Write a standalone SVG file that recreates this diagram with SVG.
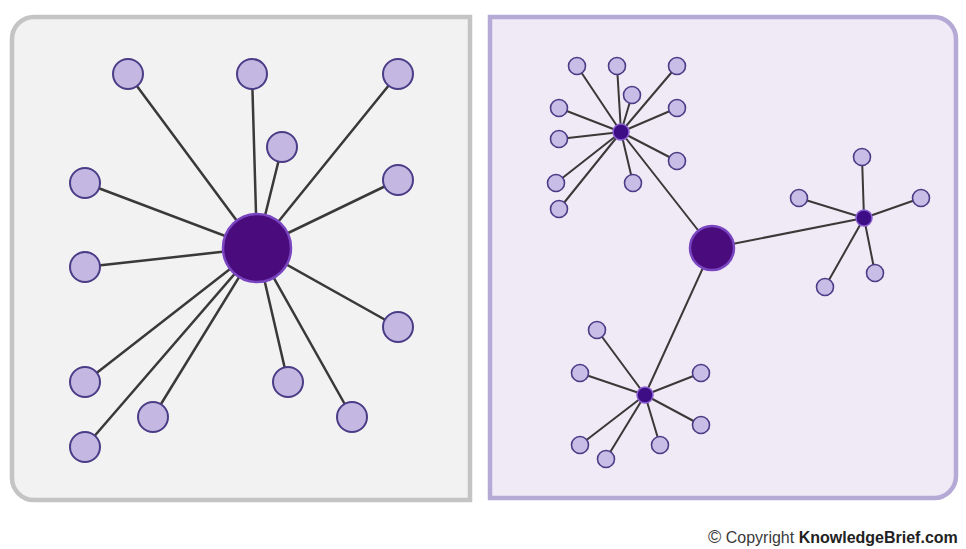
<svg xmlns="http://www.w3.org/2000/svg" width="966" height="549" viewBox="0 0 966 549">
<style>
.edge{stroke:#3b3838;stroke-width:2.5;fill:none;stroke-linecap:round}
.edge2{stroke:#3b3838;stroke-width:2;fill:none;stroke-linecap:round}
.leaf{fill:#c4b8e2;stroke:#4a3c86;stroke-width:2}
.leafs{fill:#c8bde6;stroke:#4a3c86;stroke-width:1.6}
.hub{fill:#4a0c7c;stroke:#7a45c0;stroke-width:2.5}
.sub{fill:#3d0d86;stroke:#8a5fd0;stroke-width:1.5}
.t{font-family:"Liberation Sans",Arial,sans-serif;font-size:16px;fill:#3a3a3a}
</style>
<g id="panel-left">
<path d="M34 17 H470 V500 H34 A22 22 0 0 1 12 478 V39 A22 22 0 0 1 34 17 Z" fill="#f2f2f2" stroke="#c4c4c4" stroke-width="4.5"/>
</g>
<g id="panel-right">
<path d="M490 17 H934 A22 22 0 0 1 956 39 V476 A22 22 0 0 1 934 498 H490 Z" fill="#f0e9f6" stroke="#b5aad5" stroke-width="4.5"/>
</g>
<g id="connectors">
<g class="edge">
<line x1="257" y1="248" x2="128" y2="74"/>
<line x1="257" y1="248" x2="252" y2="74"/>
<line x1="257" y1="248" x2="398" y2="74"/>
<line x1="257" y1="248" x2="282" y2="147"/>
<line x1="257" y1="248" x2="85" y2="183"/>
<line x1="257" y1="248" x2="398" y2="180"/>
<line x1="257" y1="248" x2="85" y2="267"/>
<line x1="257" y1="248" x2="398" y2="327"/>
<line x1="257" y1="248" x2="85" y2="382"/>
<line x1="257" y1="248" x2="288" y2="382"/>
<line x1="257" y1="248" x2="153" y2="417"/>
<line x1="257" y1="248" x2="352" y2="417"/>
<line x1="257" y1="248" x2="85" y2="447"/>
</g>
<g class="edge2">
<line x1="712" y1="248" x2="621" y2="132"/>
<line x1="712" y1="248" x2="864" y2="218"/>
<line x1="712" y1="248" x2="645" y2="395"/>
<line x1="621" y1="132" x2="577" y2="66"/>
<line x1="621" y1="132" x2="617" y2="66"/>
<line x1="621" y1="132" x2="677" y2="66"/>
<line x1="621" y1="132" x2="632" y2="95"/>
<line x1="621" y1="132" x2="559" y2="108"/>
<line x1="621" y1="132" x2="677" y2="108"/>
<line x1="621" y1="132" x2="559" y2="139"/>
<line x1="621" y1="132" x2="677" y2="161"/>
<line x1="621" y1="132" x2="556" y2="183"/>
<line x1="621" y1="132" x2="633" y2="183"/>
<line x1="621" y1="132" x2="559" y2="209"/>
<line x1="864" y1="218" x2="862" y2="157"/>
<line x1="864" y1="218" x2="799" y2="198"/>
<line x1="864" y1="218" x2="921" y2="198"/>
<line x1="864" y1="218" x2="875" y2="273"/>
<line x1="864" y1="218" x2="825" y2="287"/>
<line x1="645" y1="395" x2="597" y2="330"/>
<line x1="645" y1="395" x2="580" y2="373"/>
<line x1="645" y1="395" x2="701" y2="373"/>
<line x1="645" y1="395" x2="701" y2="425"/>
<line x1="645" y1="395" x2="580" y2="445"/>
<line x1="645" y1="395" x2="660" y2="445"/>
<line x1="645" y1="395" x2="606" y2="459"/>
</g>
</g>
<g id="hub-left"><circle class="hub" cx="257" cy="248" r="34"/></g>
<g id="l1"><circle class="leaf" cx="128" cy="74" r="15"/></g>
<g id="l2"><circle class="leaf" cx="252" cy="74" r="15"/></g>
<g id="l3"><circle class="leaf" cx="398" cy="74" r="15"/></g>
<g id="l4"><circle class="leaf" cx="282" cy="147" r="15"/></g>
<g id="l5"><circle class="leaf" cx="85" cy="183" r="15"/></g>
<g id="l6"><circle class="leaf" cx="398" cy="180" r="15"/></g>
<g id="l7"><circle class="leaf" cx="85" cy="267" r="15"/></g>
<g id="l8"><circle class="leaf" cx="398" cy="327" r="15"/></g>
<g id="l9"><circle class="leaf" cx="85" cy="382" r="15"/></g>
<g id="l10"><circle class="leaf" cx="288" cy="382" r="15"/></g>
<g id="l11"><circle class="leaf" cx="153" cy="417" r="15"/></g>
<g id="l12"><circle class="leaf" cx="352" cy="417" r="15"/></g>
<g id="l13"><circle class="leaf" cx="85" cy="447" r="15"/></g>
<g id="hub-right"><circle class="hub" cx="712" cy="248" r="22"/></g>
<g id="sub-a"><circle class="sub" cx="621" cy="132" r="8"/></g>
<g id="sub-b"><circle class="sub" cx="864" cy="218" r="8"/></g>
<g id="sub-c"><circle class="sub" cx="645" cy="395" r="8"/></g>
<g id="a1"><circle class="leafs" cx="577" cy="66" r="8.5"/></g>
<g id="a2"><circle class="leafs" cx="617" cy="66" r="8.5"/></g>
<g id="a3"><circle class="leafs" cx="677" cy="66" r="8.5"/></g>
<g id="a4"><circle class="leafs" cx="632" cy="95" r="8.5"/></g>
<g id="a5"><circle class="leafs" cx="559" cy="108" r="8.5"/></g>
<g id="a6"><circle class="leafs" cx="677" cy="108" r="8.5"/></g>
<g id="a7"><circle class="leafs" cx="559" cy="139" r="8.5"/></g>
<g id="a8"><circle class="leafs" cx="677" cy="161" r="8.5"/></g>
<g id="a9"><circle class="leafs" cx="556" cy="183" r="8.5"/></g>
<g id="a10"><circle class="leafs" cx="633" cy="183" r="8.5"/></g>
<g id="a11"><circle class="leafs" cx="559" cy="209" r="8.5"/></g>
<g id="b1"><circle class="leafs" cx="862" cy="157" r="8.5"/></g>
<g id="b2"><circle class="leafs" cx="799" cy="198" r="8.5"/></g>
<g id="b3"><circle class="leafs" cx="921" cy="198" r="8.5"/></g>
<g id="b4"><circle class="leafs" cx="875" cy="273" r="8.5"/></g>
<g id="b5"><circle class="leafs" cx="825" cy="287" r="8.5"/></g>
<g id="c1"><circle class="leafs" cx="597" cy="330" r="8.5"/></g>
<g id="c2"><circle class="leafs" cx="580" cy="373" r="8.5"/></g>
<g id="c3"><circle class="leafs" cx="701" cy="373" r="8.5"/></g>
<g id="c4"><circle class="leafs" cx="701" cy="425" r="8.5"/></g>
<g id="c5"><circle class="leafs" cx="580" cy="445" r="8.5"/></g>
<g id="c6"><circle class="leafs" cx="660" cy="445" r="8.5"/></g>
<g id="c7"><circle class="leafs" cx="606" cy="459" r="8.5"/></g>
<g id="copyright">
<text class="t" x="708" y="543"><tspan font-size="18px">©</tspan> Copyright <tspan font-weight="bold" fill="#222">KnowledgeBrief.com</tspan></text>
</g>
</svg>
